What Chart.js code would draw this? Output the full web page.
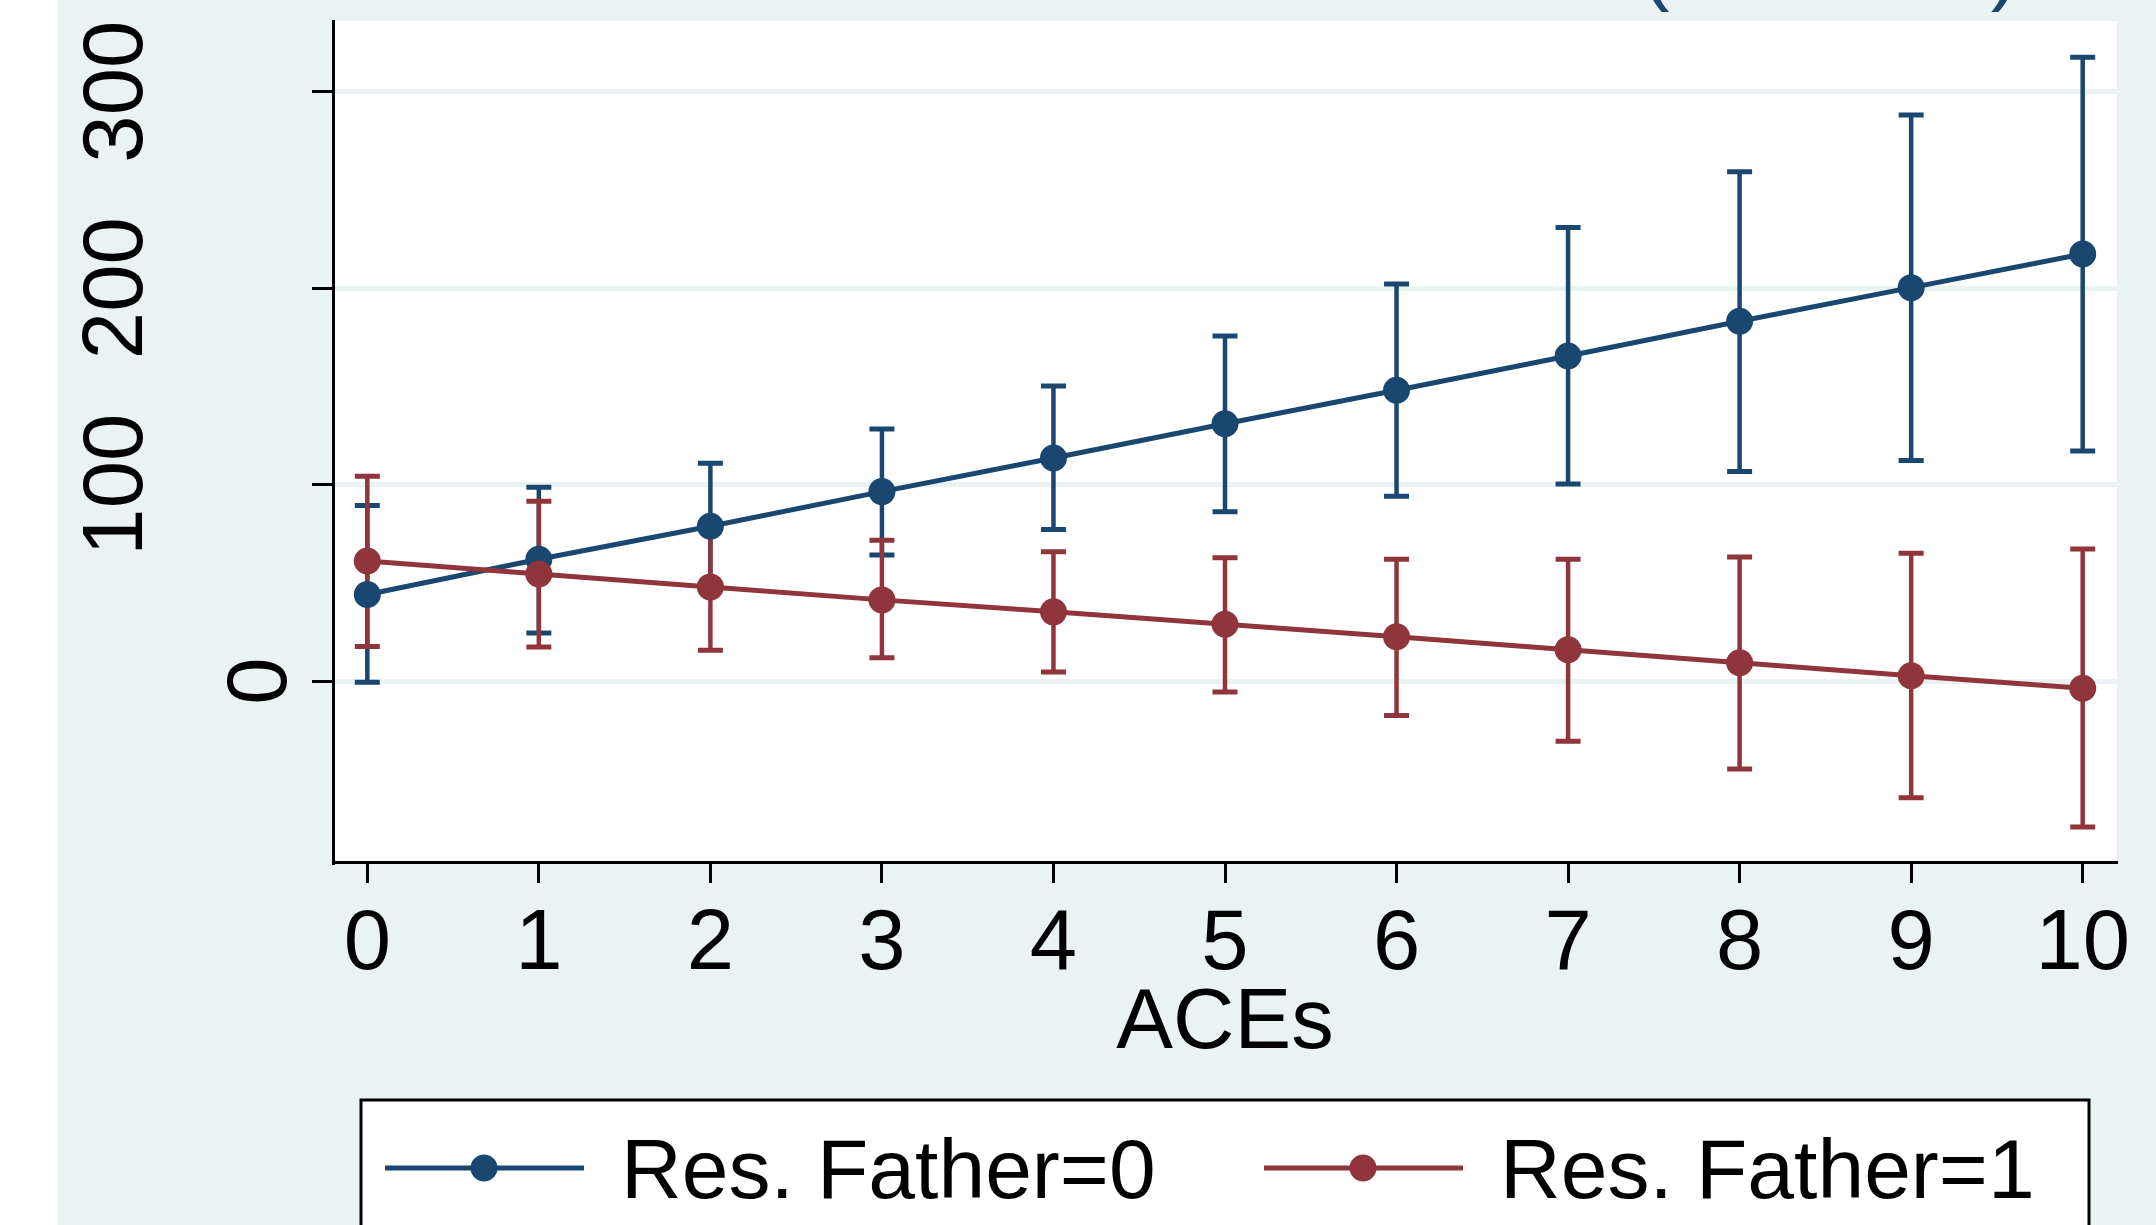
<!DOCTYPE html>
<html>
<head>
<meta charset="utf-8">
<title>Res. Father by ACEs</title>
<script src="https://cdn.jsdelivr.net/npm/chart.js@4.4.1/dist/chart.umd.min.js"></script>
<style>
  html, body { margin: 0; padding: 0; background: #ffffff; }
  #wrap { position: relative; width: 2156px; height: 1225px; overflow: hidden; }
  #chart { display: block; }
</style>
</head>
<body>
<div id="wrap"><canvas id="chart" width="2156" height="1225"></canvas></div>
<script>
// values
const aces = [0, 1, 2, 3, 4, 5, 6, 7, 8, 9, 10];

const fit0 = [44.1, 62.1, 78.9, 96.5, 113.6, 131.0, 148.1, 165.5, 183.2, 200.3, 217.4];
const low0 = [-0.5, 24.5, 46.9, 64.3, 77.2, 86.3, 94.1, 100.4, 106.7, 112.3, 117.2];
const high0 = [89.4, 98.7, 110.9, 128.3, 150.3, 175.7, 202.2, 230.9, 259.3, 288.2, 317.5];

const fit1 = [61.2, 54.6, 48.0, 41.4, 35.3, 29.0, 22.6, 16.0, 9.4, 2.8, -3.6];
const low1 = [17.7, 17.4, 15.7, 11.9, 4.7, -5.5, -17.4, -30.6, -44.7, -59.3, -74.2];
const high1 = [104.3, 91.6, 80.3, 71.7, 65.9, 62.9, 62.1, 62.1, 63.2, 65.1, 67.3];

const seriesNames = ['Res. Father=0', 'Res. Father=1'];
const xTicks = [0, 1, 2, 3, 4, 5, 6, 7, 8, 9, 10];
const yTicks = [0, 100, 200, 300];
const titleText = '(95% CIs)';

const BLUE = '#1a476f';
const RED = '#90353b';
const BG = '#eaf2f3';
const FONT = "'Liberation Sans', Arial, sans-serif";

Chart.defaults.font.family = FONT;
Chart.defaults.color = '#000';

function points(ys) {
    return aces.map((a, i) => ({ x: a, y: ys[i] }));
}

// light graph region + white plot region
const backdrop = {
    id: 'backdrop',
    beforeDraw(chart) {
        const { ctx, chartArea: a } = chart;
        ctx.save();
        ctx.fillStyle = BG;
        ctx.fillRect(58, 0, chart.width - 58, chart.height);
        ctx.fillStyle = '#ffffff';
        ctx.fillRect(a.left, a.top, a.right - a.left, a.bottom - a.top);
        ctx.restore();
    }
};

// capped confidence intervals, drawn under the lines
const ciBars = {
    id: 'ciBars',
    beforeDatasetsDraw(chart) {
        const { ctx, scales: { x, y } } = chart;
        ctx.save();
        chart.data.datasets.forEach((ds) => {
            ctx.strokeStyle = ds.borderColor;
            ctx.lineCap = 'butt';
            aces.forEach((a, i) => {
                const px = x.getPixelForValue(a);
                const top = y.getPixelForValue(ds.ciHigh[i]);
                const bot = y.getPixelForValue(ds.ciLow[i]);
                ctx.lineWidth = 4.5;
                ctx.beginPath();
                ctx.moveTo(px, top);
                ctx.lineTo(px, bot);
                ctx.stroke();
                ctx.lineWidth = 5;
                ctx.beginPath();
                ctx.moveTo(px - 12.5, top);
                ctx.lineTo(px + 12.5, top);
                ctx.moveTo(px - 12.5, bot);
                ctx.lineTo(px + 12.5, bot);
                ctx.stroke();
            });
        });
        ctx.restore();
    }
};

// vertical y labels, as stata places them
const yLabels = {
    id: 'yLabels',
    afterDraw(chart) {
        const { ctx } = chart;
        const y = chart.scales.y;
        ctx.save();
        ctx.fillStyle = '#000';
        ctx.font = '85px ' + FONT;
        ctx.textAlign = 'center';
        ctx.textBaseline = 'alphabetic';
        y.ticks.forEach((t) => {
            const label = String(t.value);
            const bx = y.right - 47 - (label.length - 1) * 72;
            ctx.save();
            ctx.translate(bx, y.getPixelForValue(t.value));
            ctx.rotate(-Math.PI / 2);
            ctx.fillText(label, 0, 0);
            ctx.restore();
        });
        ctx.restore();
    }
};

// title is cut off by the top edge, only the bottom shows
const topTitle = {
    id: 'topTitle',
    afterDraw(chart) {
        const { ctx } = chart;
        ctx.save();
        ctx.fillStyle = BLUE;
        ctx.font = '85px ' + FONT;
        ctx.textAlign = 'right';
        ctx.textBaseline = 'alphabetic';
        ctx.fillText(titleText, 2019, -6);
        ctx.restore();
    }
};

// boxed legend at the bottom, cut by the bottom edge
const boxLegend = {
    id: 'boxLegend',
    afterDraw(chart) {
        const { ctx } = chart;
        const slots = [385, 1264];
        const cy = 1168;
        ctx.save();
        ctx.fillStyle = '#ffffff';
        ctx.fillRect(361, 1100, 1728, 200);
        ctx.strokeStyle = '#000';
        ctx.lineWidth = 3;
        ctx.strokeRect(361, 1100, 1728, 200);
        chart.data.datasets.forEach((ds, i) => {
            const x0 = slots[i];
            ctx.strokeStyle = ds.borderColor;
            ctx.lineWidth = 5;
            ctx.beginPath();
            ctx.moveTo(x0, cy);
            ctx.lineTo(x0 + 199, cy);
            ctx.stroke();
            ctx.fillStyle = ds.borderColor;
            ctx.beginPath();
            ctx.arc(x0 + 99, cy, 13.5, 0, Math.PI * 2);
            ctx.fill();
            ctx.fillStyle = '#000';
            ctx.font = '84px ' + FONT;
            ctx.textAlign = 'left';
            ctx.textBaseline = 'alphabetic';
            ctx.fillText(ds.label, x0 + 236, 1198);
        });
        ctx.restore();
    }
};

new Chart(document.getElementById('chart'), {
    type: 'line',
    data: {
        datasets: [
            {
                label: seriesNames[0],
                data: points(fit0),
                ciLow: low0,
                ciHigh: high0,
                borderColor: BLUE,
                backgroundColor: BLUE,
                pointBackgroundColor: BLUE,
                borderWidth: 5,
                pointRadius: 13.5,
                pointBorderWidth: 0,
                tension: 0,
                order: 2
            },
            {
                label: seriesNames[1],
                data: points(fit1),
                ciLow: low1,
                ciHigh: high1,
                borderColor: RED,
                backgroundColor: RED,
                pointBackgroundColor: RED,
                borderWidth: 5,
                pointRadius: 13.5,
                pointBorderWidth: 0,
                tension: 0,
                order: 1
            }
        ]
    },
    options: {
        responsive: false,
        animation: false,
        layout: { padding: { top: 21, right: 39, left: 0, bottom: 0 } },
        plugins: {
            legend: { display: false },
            title: { display: false },
            tooltip: { enabled: false }
        },
        scales: {
            x: {
                type: 'linear',
                min: -0.2,
                max: 10.2,
                afterBuildTicks: (s) => { s.ticks = xTicks.map(v => ({ value: v })); },
                afterFit: (s) => { s.height = 363; },
                grid: {
                    display: true,
                    drawOnChartArea: false,
                    drawTicks: true,
                    tickLength: 21,
                    tickWidth: 3,
                    tickColor: '#000'
                },
                border: { display: true, color: '#000', width: 3 },
                ticks: { font: { size: 85 }, color: '#000', padding: 12, maxRotation: 0, autoSkip: false },
                title: {
                    display: true,
                    text: 'ACEs',
                    font: { size: 85 },
                    color: '#000',
                    padding: { top: 0, bottom: 149 }
                }
            },
            y: {
                type: 'linear',
                min: -92,
                max: 336,
                afterBuildTicks: (s) => { s.ticks = yTicks.map(v => ({ value: v })); },
                afterFit: (s) => { s.width = 333; },
                grid: {
                    color: BG,
                    lineWidth: 5,
                    drawTicks: true,
                    tickLength: 21,
                    tickWidth: 3,
                    tickColor: '#000'
                },
                border: { display: true, color: '#000', width: 3 },
                ticks: { display: false }
            }
        }
    },
    plugins: [backdrop, ciBars, yLabels, topTitle, boxLegend]
});
</script>
</body>
</html>
